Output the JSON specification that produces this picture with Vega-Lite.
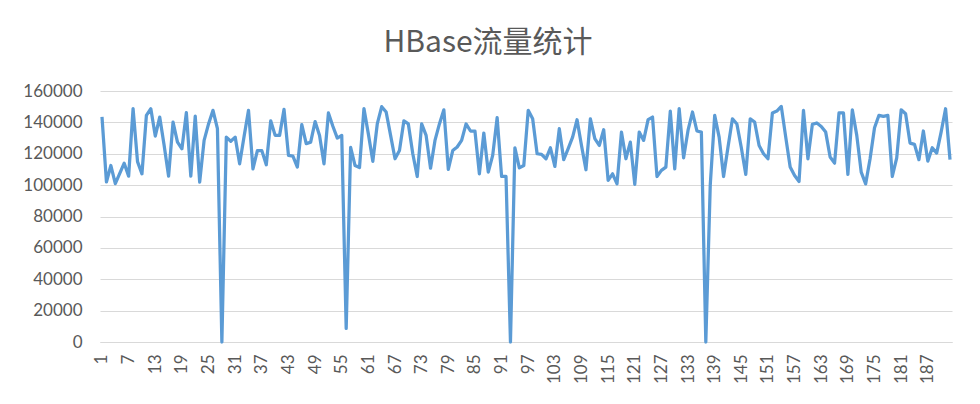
{
  "$schema": "https://vega.github.io/schema/vega-lite/v6.json",
  "width": 852,
  "height": 251,
  "autosize": "none",
  "padding": {"left": 100, "top": 91, "right": 28, "bottom": 62},
  "background": "white",
  "title": {
    "text": "HBase流量统计",
    "font": "Noto Sans CJK SC",
    "fontSize": 30,
    "fontWeight": "normal",
    "color": "#595959",
    "anchor": "middle",
    "offset": 24,
    "dx": -38
  },
  "data": {
    "values": [
      {"i": 1, "v": 143500}, {"i": 2, "v": 102000}, {"i": 3, "v": 112500}, {"i": 4, "v": 101000},
      {"i": 5, "v": 107500}, {"i": 6, "v": 114000}, {"i": 7, "v": 105700}, {"i": 8, "v": 148700},
      {"i": 9, "v": 115000}, {"i": 10, "v": 107200}, {"i": 11, "v": 144500}, {"i": 12, "v": 148700},
      {"i": 13, "v": 131300}, {"i": 14, "v": 143400}, {"i": 15, "v": 125300}, {"i": 16, "v": 105700},
      {"i": 17, "v": 140200}, {"i": 18, "v": 127400}, {"i": 19, "v": 123200}, {"i": 20, "v": 146200},
      {"i": 21, "v": 105700}, {"i": 22, "v": 144000}, {"i": 23, "v": 101900}, {"i": 24, "v": 128500},
      {"i": 25, "v": 139000}, {"i": 26, "v": 147700}, {"i": 27, "v": 136000}, {"i": 28, "v": 0},
      {"i": 29, "v": 130600}, {"i": 30, "v": 128000}, {"i": 31, "v": 130600}, {"i": 32, "v": 113600},
      {"i": 33, "v": 131000}, {"i": 34, "v": 147700}, {"i": 35, "v": 110400}, {"i": 36, "v": 122000},
      {"i": 37, "v": 122000}, {"i": 38, "v": 113000}, {"i": 39, "v": 141000}, {"i": 40, "v": 131700},
      {"i": 41, "v": 131700}, {"i": 42, "v": 148300}, {"i": 43, "v": 119000}, {"i": 44, "v": 118500},
      {"i": 45, "v": 111500}, {"i": 46, "v": 138500}, {"i": 47, "v": 126400}, {"i": 48, "v": 127400},
      {"i": 49, "v": 140500}, {"i": 50, "v": 131700}, {"i": 51, "v": 113600}, {"i": 52, "v": 146000},
      {"i": 53, "v": 137500}, {"i": 54, "v": 130000}, {"i": 55, "v": 131700}, {"i": 56, "v": 8700},
      {"i": 57, "v": 124000}, {"i": 58, "v": 112500}, {"i": 59, "v": 111200}, {"i": 60, "v": 148800},
      {"i": 61, "v": 132500}, {"i": 62, "v": 115200}, {"i": 63, "v": 139000}, {"i": 64, "v": 150000},
      {"i": 65, "v": 146600}, {"i": 66, "v": 131700}, {"i": 67, "v": 116800}, {"i": 68, "v": 122100},
      {"i": 69, "v": 141000}, {"i": 70, "v": 139000}, {"i": 71, "v": 120000}, {"i": 72, "v": 105500},
      {"i": 73, "v": 139000}, {"i": 74, "v": 131700}, {"i": 75, "v": 110800}, {"i": 76, "v": 128500},
      {"i": 77, "v": 139000}, {"i": 78, "v": 148000}, {"i": 79, "v": 110000}, {"i": 80, "v": 122000},
      {"i": 81, "v": 124300}, {"i": 82, "v": 128500}, {"i": 83, "v": 139000}, {"i": 84, "v": 134500},
      {"i": 85, "v": 134500}, {"i": 86, "v": 107200}, {"i": 87, "v": 133200}, {"i": 88, "v": 108300},
      {"i": 89, "v": 119000}, {"i": 90, "v": 143000}, {"i": 91, "v": 105500}, {"i": 92, "v": 105500},
      {"i": 93, "v": 0}, {"i": 94, "v": 123800}, {"i": 95, "v": 111000}, {"i": 96, "v": 112500},
      {"i": 97, "v": 147700}, {"i": 98, "v": 142300}, {"i": 99, "v": 120000}, {"i": 100, "v": 119600},
      {"i": 101, "v": 116800}, {"i": 102, "v": 123800}, {"i": 103, "v": 111900}, {"i": 104, "v": 136000},
      {"i": 105, "v": 116200}, {"i": 106, "v": 123200}, {"i": 107, "v": 130600}, {"i": 108, "v": 141700},
      {"i": 109, "v": 125300}, {"i": 110, "v": 109800}, {"i": 111, "v": 142300}, {"i": 112, "v": 129600},
      {"i": 113, "v": 125300}, {"i": 114, "v": 135300}, {"i": 115, "v": 103000}, {"i": 116, "v": 107200},
      {"i": 117, "v": 100800}, {"i": 118, "v": 133800}, {"i": 119, "v": 116800}, {"i": 120, "v": 127400},
      {"i": 121, "v": 100500}, {"i": 122, "v": 133800}, {"i": 123, "v": 128500}, {"i": 124, "v": 141800},
      {"i": 125, "v": 143400}, {"i": 126, "v": 105500}, {"i": 127, "v": 109400}, {"i": 128, "v": 111500},
      {"i": 129, "v": 147200}, {"i": 130, "v": 110400}, {"i": 131, "v": 148700}, {"i": 132, "v": 117400},
      {"i": 133, "v": 135000}, {"i": 134, "v": 146600}, {"i": 135, "v": 134500}, {"i": 136, "v": 133800},
      {"i": 137, "v": 0}, {"i": 138, "v": 100000}, {"i": 139, "v": 144500}, {"i": 140, "v": 130600},
      {"i": 141, "v": 105500}, {"i": 142, "v": 124300}, {"i": 143, "v": 142300}, {"i": 144, "v": 139000},
      {"i": 145, "v": 123800}, {"i": 146, "v": 106800}, {"i": 147, "v": 142300}, {"i": 148, "v": 140200},
      {"i": 149, "v": 125300}, {"i": 150, "v": 120000}, {"i": 151, "v": 116800}, {"i": 152, "v": 146000},
      {"i": 153, "v": 147200}, {"i": 154, "v": 150200}, {"i": 155, "v": 130600}, {"i": 156, "v": 111500},
      {"i": 157, "v": 106100}, {"i": 158, "v": 102300}, {"i": 159, "v": 147700}, {"i": 160, "v": 116800},
      {"i": 161, "v": 138700}, {"i": 162, "v": 139600}, {"i": 163, "v": 137400}, {"i": 164, "v": 133800},
      {"i": 165, "v": 117900}, {"i": 166, "v": 114000}, {"i": 167, "v": 146000}, {"i": 168, "v": 146000},
      {"i": 169, "v": 106800}, {"i": 170, "v": 148000}, {"i": 171, "v": 131700}, {"i": 172, "v": 108300},
      {"i": 173, "v": 100800}, {"i": 174, "v": 116800}, {"i": 175, "v": 136600}, {"i": 176, "v": 144500},
      {"i": 177, "v": 143800}, {"i": 178, "v": 144500}, {"i": 179, "v": 105500}, {"i": 180, "v": 117400},
      {"i": 181, "v": 148000}, {"i": 182, "v": 145500}, {"i": 183, "v": 126800}, {"i": 184, "v": 126000},
      {"i": 185, "v": 116200}, {"i": 186, "v": 134500}, {"i": 187, "v": 115300}, {"i": 188, "v": 123800},
      {"i": 189, "v": 120400}, {"i": 190, "v": 133800}, {"i": 191, "v": 148700}, {"i": 192, "v": 116200}
    ]
  },
  "mark": {"type": "line", "color": "#5B9BD5", "strokeWidth": 3.25, "strokeJoin": "round"},
  "encoding": {
    "x": {
      "field": "i",
      "type": "ordinal",
      "scale": {"type": "point", "padding": 0.45},
      "axis": {
        "title": null,
        "values": [1, 7, 13, 19, 25, 31, 37, 43, 49, 55, 61, 67, 73, 79, 85, 91, 97, 103, 109, 115, 121, 127, 133, 139, 145, 151, 157, 163, 169, 175, 181, 187],
        "labelAngle": -90,
        "labelPadding": 12,
        "ticks": false,
        "grid": false,
        "domainColor": "#D9D9D9",
        "labelOverlap": false
      }
    },
    "y": {
      "field": "v",
      "type": "quantitative",
      "scale": {"domain": [0, 160000]},
      "axis": {
        "title": null,
        "values": [0, 20000, 40000, 60000, 80000, 100000, 120000, 140000, 160000],
        "format": "d",
        "domain": false,
        "ticks": false,
        "labelPadding": 18,
        "gridColor": "#D9D9D9"
      }
    }
  },
  "config": {
    "view": {"stroke": null},
    "axis": {
      "labelFont": "Lato",
      "labelFontSize": 17,
      "labelColor": "#595959"
    }
  }
}
